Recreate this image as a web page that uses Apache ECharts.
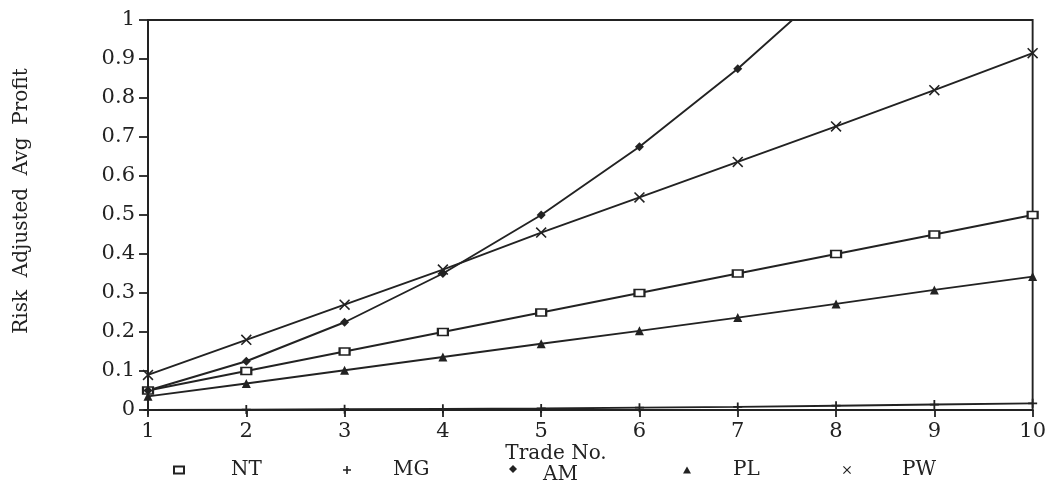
<!DOCTYPE html>
<html>
<head>
<meta charset="utf-8">
<script src="https://cdn.jsdelivr.net/npm/echarts@6/dist/echarts.min.js"></script>
<style>html,body{margin:0;padding:0;background:#fff}#c{width:1049px;height:483px}</style>
</head>
<body>
<div id="c"></div>
<script>
var tradeNo = [1, 2, 3, 4, 5, 6, 7, 8, 9, 10];
var ntValues = [0.05, 0.10, 0.15, 0.20, 0.25, 0.30, 0.35, 0.40, 0.45, 0.50];
var mgValues = [0.0, 0.001, 0.002, 0.003, 0.004, 0.006, 0.008, 0.011, 0.014, 0.017];
var amValues = [0.05, 0.125, 0.225, 0.35, 0.50, 0.675, 0.875, 1.10, 1.35, 1.625];
var plValues = [0.035, 0.068, 0.102, 0.136, 0.17, 0.203, 0.237, 0.272, 0.308, 0.342];
var pwValues = [0.09, 0.18, 0.27, 0.36, 0.455, 0.545, 0.636, 0.727, 0.82, 0.915];
var yTicks = ['0', '0.1', '0.2', '0.3', '0.4', '0.5', '0.6', '0.7', '0.8', '0.9', '1'];

var ink = '#222';
var font = '"DejaVu Serif", serif';
function pairs(v) { return tradeNo.map(function (x, i) { return [x, v[i]]; }); }

var plusPath = 'path://M4,0H6V4H10V6H6V10H4V6H0V4H4Z';
var crossPath = 'path://M0,1L1,0L5,4L9,0L10,1L6,5L10,9L9,10L5,6L1,10L0,9L4,5Z';

function mkSeries(name, vals, symbol, size, fill) {
  return {
    name: name, type: 'line', data: pairs(vals), symbol: symbol, symbolSize: size,
    showAllSymbol: true, clip: true, z: 3,
    lineStyle: { color: ink, width: 1.9 },
    itemStyle: { color: fill, borderColor: ink, borderWidth: fill === '#fff' ? 1.9 : 0 }
  };
}

function mkLegend(name, left, top, icon, w, h, gap, lower) {
  return {
    left: left, top: top, orient: 'horizontal', itemWidth: w, itemHeight: h, selectedMode: false,
    data: [{ name: name, icon: icon }],
    formatter: lower ? '{low|{name}}' : '{name}',
    textStyle: {
      fontFamily: font, fontSize: 20, color: ink, padding: [0, 0, 0, gap],
      rich: { low: { fontFamily: font, fontSize: 20, color: ink, padding: [12, 0, 0, 0] } }
    }
  };
}

var chart = echarts.init(document.getElementById('c'));
chart.setOption({
  backgroundColor: '#fff',
  animation: false,
  grid: { left: 148, right: 15, top: 20, bottom: 73, show: true, borderColor: ink, borderWidth: 1.9 },
  xAxis: {
    type: 'value', min: 1, max: 10, interval: 1,
    axisLine: { show: true, lineStyle: { color: ink, width: 2 } },
    axisTick: { show: true, length: 7, lineStyle: { color: ink, width: 1.8 } },
    splitLine: { show: false },
    axisLabel: { fontFamily: font, fontSize: 21, color: ink, margin: 11 }
  },
  yAxis: {
    type: 'value', min: 0, max: 1, interval: 0.1,
    name: 'Risk  Adjusted  Avg  Profit', nameLocation: 'middle', nameGap: 116,
    nameTextStyle: { fontFamily: font, fontSize: 20, color: ink, padding: [0, 0, 0, 28] },
    axisLine: { show: true, lineStyle: { color: ink, width: 2 } },
    axisTick: { show: true, length: 9, lineStyle: { color: ink, width: 1.8 } },
    splitLine: { show: false },
    axisLabel: {
      fontFamily: font, fontSize: 21, color: ink, margin: 13,
      formatter: function (v) { return yTicks[Math.round(v * 10)]; }
    }
  },
  legend: [
    mkLegend('NT', 168, 455, 'rect', 10, 7, 42),
    mkLegend('MG', 338, 455, plusPath, 8, 8, 37),
    mkLegend('AM', 504, 460, 'diamond', 8, 8, 21, true),
    mkLegend('PL', 678, 455, 'triangle', 8, 7, 37),
    mkLegend('PW', 838, 455, crossPath, 8, 8, 46)
  ],
  graphic: [{
    type: 'text', x: 556, y: 454,
    style: { text: 'Trade No.', fontFamily: font, fontSize: 20, fill: ink, align: 'center', verticalAlign: 'middle' }
  }],
  series: [
    mkSeries('NT', ntValues, 'rect', [10, 7], '#fff'),
    mkSeries('MG', mgValues, plusPath, 9, ink),
    mkSeries('AM', amValues, 'diamond', 9, ink),
    mkSeries('PL', plValues, 'triangle', 9, ink),
    mkSeries('PW', pwValues, crossPath, 11, ink)
  ]
});
</script>
</body>
</html>
